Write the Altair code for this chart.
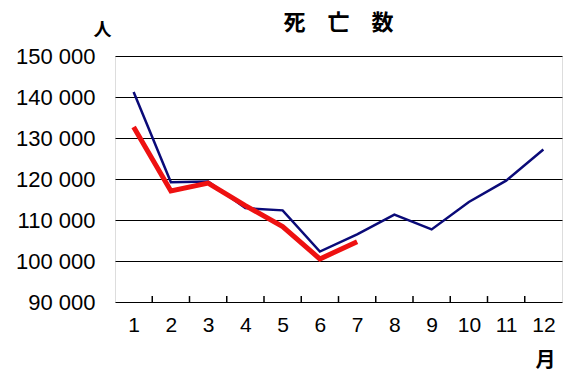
import altair as alt
import pandas as pd

months = list(range(1, 13))
prev_year = [141200, 119200, 119400, 112900, 112350, 102300, 106500, 111300, 107700, 114400, 119600, 127200]
this_months = [1, 2, 3, 4, 5, 6, 7]
this_year = [132700, 117100, 119000, 113500, 108400, 100500, 104700]
tick_pos = [1.5, 2.5, 3.5, 4.5, 5.5, 6.5, 7.5, 8.5, 9.5, 10.5, 11.5]
y_ticks = [90000, 100000, 110000, 120000, 130000, 140000, 150000]

df_prev = pd.DataFrame({"month": months, "deaths": prev_year})
df_this = pd.DataFrame({"month": this_months, "deaths": this_year})
df_ticks = pd.DataFrame({"pos": tick_pos, "y0": [90000] * len(tick_pos), "y1": [91450] * len(tick_pos)})

FONT = "Liberation Sans"
CJK = "Noto Sans CJK JP"

xscale = alt.Scale(domain=[0.5, 12.5], nice=False, zero=False)
yscale = alt.Scale(domain=[90000, 150000], nice=False, zero=False)

xaxis = alt.Axis(
    values=months, ticks=False, grid=False, domain=False,
    labelFont=FONT, labelFontSize=21, labelColor="black", labelPadding=12,
    title="月", titleFont=CJK, titleFontSize=20, titleFontWeight="bold", titleColor="black",
    titleX=430, titleY=58, titleAlign="center", titleBaseline="middle",
)
yaxis = alt.Axis(
    values=y_ticks, ticks=False, domain=False, grid=True, gridColor="black", gridWidth=1,
    labelFont=FONT, labelFontSize=22, labelColor="black", labelPadding=20,
    labelExpr="replace(format(datum.value, ','), ',', ' ')",
    title="人", titleFont=CJK, titleFontSize=18, titleFontWeight="bold", titleColor="black",
    titleAngle=0, titleX=-13, titleY=-26, titleAlign="center", titleBaseline="middle",
)

prev = alt.Chart(df_prev).mark_line(color="#0a0a78", strokeWidth=2.5).encode(
    x=alt.X("month:Q", scale=xscale, axis=xaxis),
    y=alt.Y("deaths:Q", scale=yscale, axis=yaxis),
)
this = alt.Chart(df_this).mark_line(color="#ee1111", strokeWidth=5).encode(
    x=alt.X("month:Q", scale=xscale),
    y=alt.Y("deaths:Q", scale=yscale),
)
ticks = alt.Chart(df_ticks).mark_rule(color="black", strokeWidth=1.5).encode(
    x=alt.X("pos:Q", scale=xscale),
    y=alt.Y("y0:Q", scale=yscale),
    y2="y1:Q",
)

chart = alt.layer(ticks, prev, this).properties(
    width=447, height=246,
    padding={"left": 115, "top": 56, "right": 19, "bottom": 73},
    autosize=alt.AutoSizeParams(type="none"),
    title=alt.TitleParams(
        "死　亡　数", font=CJK, fontSize=22, fontWeight="bold", color="black",
        anchor="middle", offset=0, dy=14,
    ),
).configure_view(stroke="black", strokeWidth=3.5).configure(background="white")

chart.save("out.html", embed_options={"renderer": "svg", "actions": False})
